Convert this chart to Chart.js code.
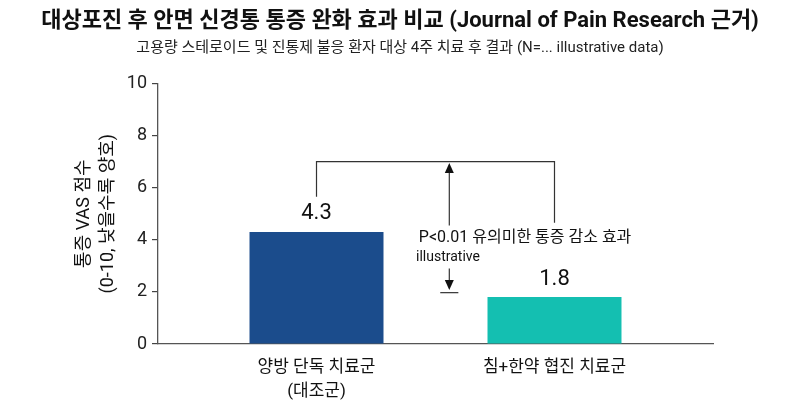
<!DOCTYPE html>
<html>
<head>
<meta charset="utf-8">
<script src="https://cdn.jsdelivr.net/npm/chart.js@4.4.1/dist/chart.umd.min.js"></script>
<style>
  html, body { margin: 0; padding: 0; background: #ffffff; }
  #wrap { width: 800px; height: 413px; position: relative; }
</style>
</head>
<body>
<div id="wrap"><canvas id="c"></canvas></div>
<script>
// ---- data ----
const categories = [["양방 단독 치료군", "(대조군)"], "침+한약 협진 치료군"];
const vasScores = [4.3, 1.8];
const barColors = ["#1B4C8C", "#14BFB1"];
const yTicks = [0, 2, 4, 6, 8, 10];
const titleText = "대상포진 후 안면 신경통 통증 완화 효과 비교 (Journal of Pain Research 근거)";
const subtitleText = "고용량 스테로이드 및 진통제 불응 환자 대상 4주 치료 후 결과 (N=... illustrative data)";
const yTitle = ["통증 VAS 점수", "(0-10, 낮을수록 양호)"];
const sigText = "P<0.01 유의미한 통증 감소 효과";
const sigNote = "illustrative";
// annotation anchors in data units (x = category index, y = VAS)
const bracketTopY = 7.0;
const bracketLegBottom = [5.65, 4.65];
const arrowX = 0.558;
const arrowUpRange = [4.55, 6.95];
const arrowDownRange = [2.9, 2.07];
const baseTickY = 1.97;
const baseTickHalfWidth = 0.038;
const sigTextAnchor = [0.43, 4.06];
const sigNoteAnchor = [0.418, 3.31];

const FONT = 'Roboto, "Noto Sans CJK KR", sans-serif';

const valueLabels = {
  id: 'valueLabels',
  afterDatasetsDraw(chart) {
    const ctx = chart.ctx;
    const meta = chart.getDatasetMeta(0);
    ctx.save();
    ctx.font = '22px ' + FONT;
    ctx.fillStyle = '#111';
    ctx.textAlign = 'center';
    ctx.textBaseline = 'bottom';
    meta.data.forEach((el, i) => {
      ctx.fillText(vasScores[i].toFixed(1), el.x, el.y - 7);
    });
    ctx.restore();
  }
};

const significance = {
  id: 'significance',
  afterDatasetsDraw(chart) {
    const ctx = chart.ctx;
    const xs = chart.scales.x, ys = chart.scales.y;
    const px = v => xs.getPixelForValue(v);
    const py = v => ys.getPixelForValue(v);
    ctx.save();
    ctx.strokeStyle = '#333';
    ctx.fillStyle = '#111';
    ctx.lineWidth = 1.2;
    // bracket
    ctx.beginPath();
    ctx.moveTo(px(0), py(bracketLegBottom[0]));
    ctx.lineTo(px(0), py(bracketTopY));
    ctx.lineTo(px(1), py(bracketTopY));
    ctx.lineTo(px(1), py(bracketLegBottom[1]));
    ctx.stroke();
    const ax = px(arrowX);
    function arrow(fromV, toV) {
      const y0 = py(fromV), y1 = py(toV);
      const dir = y1 > y0 ? 1 : -1;
      ctx.beginPath();
      ctx.moveTo(ax, y0);
      ctx.lineTo(ax, y1 - dir * 8);
      ctx.stroke();
      ctx.beginPath();
      ctx.moveTo(ax, y1);
      ctx.lineTo(ax - 4.5, y1 - dir * 10);
      ctx.lineTo(ax + 4.5, y1 - dir * 10);
      ctx.closePath();
      ctx.fill();
    }
    arrow(arrowUpRange[0], arrowUpRange[1]);
    arrow(arrowDownRange[0], arrowDownRange[1]);
    ctx.beginPath();
    ctx.moveTo(px(arrowX - baseTickHalfWidth), py(baseTickY));
    ctx.lineTo(px(arrowX + baseTickHalfWidth), py(baseTickY));
    ctx.stroke();
    ctx.textAlign = 'left';
    ctx.textBaseline = 'middle';
    ctx.fillStyle = '#111';
    ctx.font = '16px ' + FONT;
    ctx.fillText(sigText, px(sigTextAnchor[0]), py(sigTextAnchor[1]));
    ctx.font = '14px ' + FONT;
    ctx.fillText(sigNote, px(sigNoteAnchor[0]), py(sigNoteAnchor[1]));
    ctx.restore();
  }
};

new Chart(document.getElementById('c'), {
  type: 'bar',
  data: {
    datasets: [{
      data: vasScores.map((v, i) => ({ x: i, y: v })),
      backgroundColor: barColors,
      borderWidth: 0,
      categoryPercentage: 1,
      barPercentage: 0.563
    }]
  },
  options: {
    responsive: true,
    maintainAspectRatio: false,
    animation: false,
    devicePixelRatio: 1,
    layout: { padding: { left: 0, right: 0, top: 0, bottom: 0 } },
    plugins: {
      legend: { display: false },
      tooltip: { enabled: false },
      title: {
        display: true,
        text: titleText,
        color: '#111',
        font: { family: FONT, size: 22, weight: 'bold', lineHeight: 1.2 },
        padding: { top: 8, bottom: 5 }
      },
      subtitle: {
        display: true,
        text: subtitleText,
        color: '#222',
        font: { family: FONT, size: 15, lineHeight: 1.2 },
        padding: { top: 0, bottom: 26 }
      }
    },
    scales: {
      x: {
        type: 'linear',
        offset: false,
        min: -0.666,
        max: 1.666,
        afterBuildTicks: s => { s.ticks = categories.map((c, i) => ({ value: i })); },
        afterFit: s => { s.height = 69; },
        grid: { offset: false, drawOnChartArea: false, drawTicks: false },
        border: { display: true, color: '#555', width: 1.3 },
        ticks: {
          font: { family: FONT, size: 17, lineHeight: 1.41 },
          color: '#111',
          padding: 12,
          maxRotation: 0,
          autoSkip: false,
          callback: v => categories[v]
        }
      },
      y: {
        min: 0,
        max: 10,
        afterBuildTicks: s => { s.ticks = yTicks.map(v => ({ value: v })); },
        afterFit: s => { s.width = 158; },
        grid: { drawOnChartArea: false, drawTicks: true, tickLength: 6, color: '#444', lineWidth: 1.2 },
        border: { display: true, color: '#555', width: 1.3 },
        ticks: {
          font: { family: FONT, size: 18 },
          color: '#222',
          padding: 5
        },
        title: {
          display: true,
          text: yTitle,
          color: '#111',
          font: { family: FONT, size: 18, lineHeight: 1.33 },
          padding: { top: 73, bottom: 0 }
        }
      },
      yRight: {
        position: 'right',
        display: true,
        afterFit: s => { s.width = 87; },
        grid: { display: false },
        border: { display: false },
        ticks: { display: false }
      }
    }
  },
  plugins: [valueLabels, significance]
});
</script>
</body>
</html>
